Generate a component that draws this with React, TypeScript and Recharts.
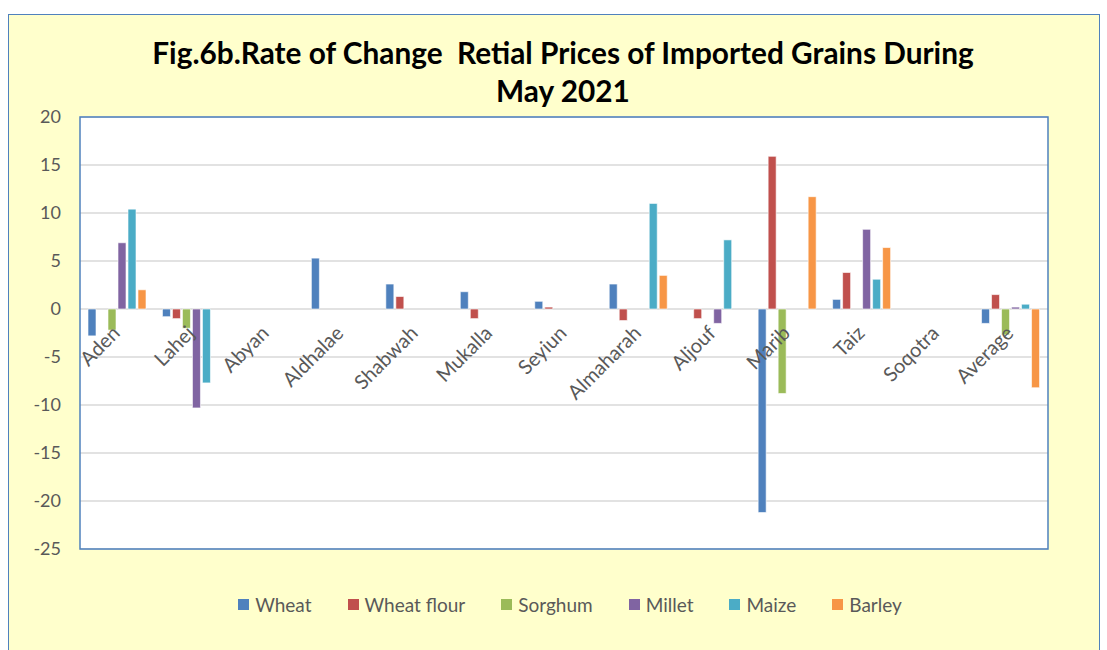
import React from "react";
import { BarChart, Bar, XAxis, YAxis, CartesianGrid, ReferenceArea } from "recharts";

const categories = ["Aden", "Lahej", "Abyan", "Aldhalae", "Shabwah", "Mukalla", "Seyiun", "Almaharah", "Aljouf", "Marib", "Taiz", "Soqotra", "Average"];
const wheat = [-2.8, -0.8, null, 5.3, 2.6, 1.8, 0.8, 2.6, null, -21.2, 1.0, null, -1.5];
const wheatFlour = [null, -1.0, null, null, 1.3, -1.0, 0.2, -1.2, -1.0, 15.9, 3.8, null, 1.5];
const sorghum = [-2.2, -2.0, null, null, null, null, null, null, null, -8.8, null, null, -2.7];
const millet = [6.9, -10.3, null, null, null, null, null, null, -1.5, null, 8.3, null, 0.2];
const maize = [10.4, -7.7, null, null, null, null, null, 11.0, 7.2, null, 3.1, null, 0.5];
const barley = [2.0, null, null, null, null, null, null, 3.5, null, 11.7, 6.4, null, -8.2];
const yTicks = [20, 15, 10, 5, 0, -5, -10, -15, -20, -25];

const seriesNames = ["Wheat", "Wheat flour", "Sorghum", "Millet", "Maize", "Barley"];
const seriesColors = ["#4F81BD", "#C0504D", "#9BBB59", "#8064A2", "#4BACC6", "#F79646"];
const seriesValues = [wheat, wheatFlour, sorghum, millet, maize, barley];

const data = categories.map((c, i) => {
  const row: any = { name: c };
  seriesNames.forEach((s, k) => {
    row[s] = seriesValues[k][i];
  });
  return row;
});

const W = 1107;
const H = 650;
const M = { top: 117, right: 59, bottom: 100, left: 40 };
const Y_MIN = -25;
const Y_MAX = 20;
const plotTop = M.top;
const plotH = H - M.top - M.bottom;
const zeroY = plotTop + ((Y_MAX - 0) / (Y_MAX - Y_MIN)) * plotH;

const FONT = "Lato, 'Open Sans', sans-serif";

const XTick = (props: any) => {
  const { x, payload } = props;
  const ax = x + 4;
  const ay = zeroY + 25;
  return (
    <text
      x={ax}
      y={ay}
      textAnchor="end"
      transform={`rotate(-45, ${ax}, ${ay})`}
      fill="#595959"
      fontSize={20}
      fontFamily={FONT}
    >
      {payload.value}
    </text>
  );
};

export default function App() {
  return (
    <div style={{ position: "absolute", left: 0, top: 0, width: W, height: H, overflow: "hidden", background: "#ffffff" }}>
      <div
        style={{
          position: "absolute",
          left: 8,
          top: 14,
          width: 1092,
          height: 660,
          background: "#FFFFCC",
          border: "1.5px solid #4F81BD",
          boxSizing: "border-box",
        }}
      />
      <div
        style={{
          position: "absolute",
          left: 113,
          top: 34,
          width: 900,
          textAlign: "center",
          fontFamily: FONT,
          fontWeight: 700,
          fontSize: 29.8,
          lineHeight: "38px",
          color: "#000",
        }}
      >
        <div style={{ whiteSpace: "pre" }}>{"Fig.6b.Rate of Change  Retial Prices of Imported Grains During"}</div>
        <div>May 2021</div>
      </div>
      <div style={{ position: "absolute", left: 0, top: 0 }}>
        <BarChart width={W} height={H} data={data} margin={M} barCategoryGap={8} barGap={2}>
          <CartesianGrid vertical={false} stroke="#D9D9D9" strokeWidth={1.5} fill="#ffffff" fillOpacity={1} />
          <XAxis
            dataKey="name"
            interval={0}
            axisLine={false}
            tickLine={false}
            height={1}
            tick={<XTick />}
          />
          <YAxis
            domain={[Y_MIN, Y_MAX]}
            ticks={yTicks}
            interval={0}
            width={40}
            axisLine={false}
            tickLine={false}
            tickSize={0}
            tickMargin={19}
            tick={{ fill: "#595959", fontSize: 18, fontFamily: FONT }}
          />
          <ReferenceArea y1={Y_MIN} y2={Y_MAX} fill="none" stroke="#4F81BD" strokeWidth={1.5} ifOverflow="visible" />
          {seriesNames.map((s, k) => (
            <Bar key={s} dataKey={s} fill={seriesColors[k]} stroke="#ffffff" strokeWidth={0.6} isAnimationActive={false} />
          ))}
        </BarChart>
      </div>
      <div
        style={{
          position: "absolute",
          left: 33,
          top: 593,
          width: 1074,
          display: "flex",
          justifyContent: "center",
          gap: 36,
          fontFamily: FONT,
          fontSize: 19,
          color: "#595959",
        }}
      >
        {seriesNames.map((s, k) => (
          <div key={s} style={{ display: "flex", alignItems: "center" }}>
            <span style={{ display: "inline-block", width: 11, height: 11, background: seriesColors[k], marginRight: 6 }} />
            <span>{s}</span>
          </div>
        ))}
      </div>
    </div>
  );
}
